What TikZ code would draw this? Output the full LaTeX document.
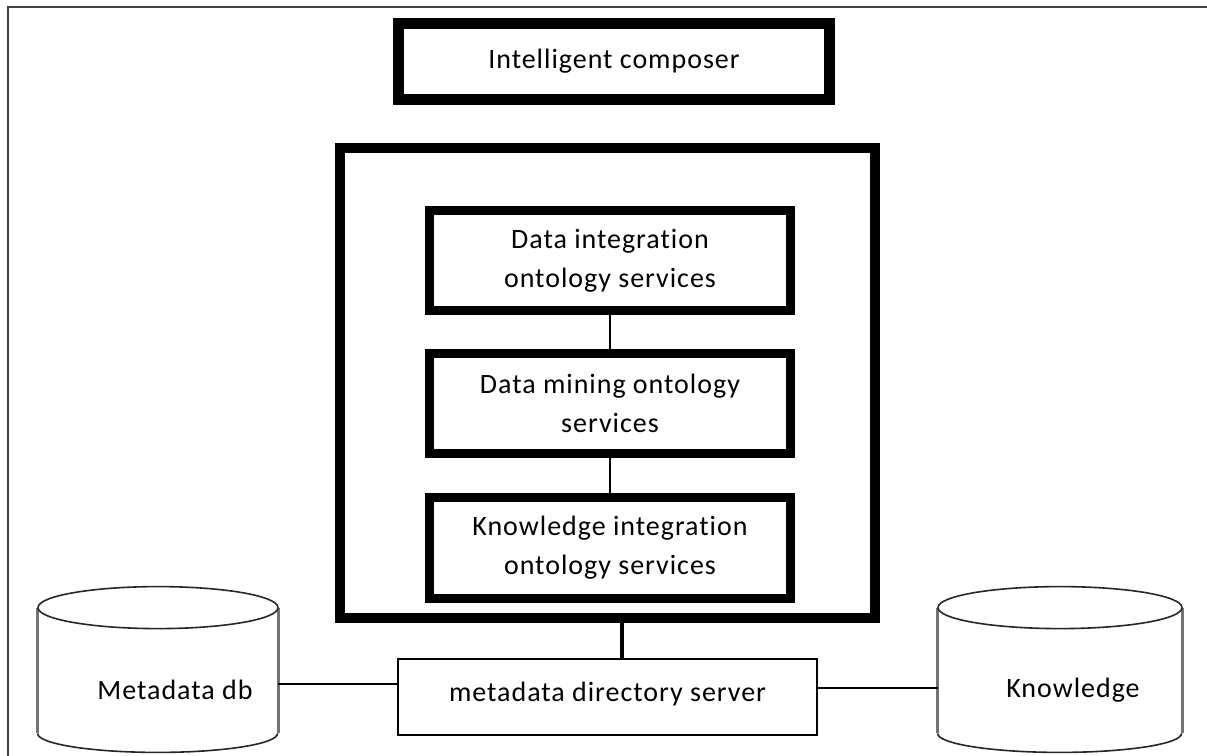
\documentclass[tikz,border=0pt]{standalone}
\usepackage{fontspec}
\setmainfont{Carlito}[Ligatures=NoCommon, LetterSpace=3.5]
\usetikzlibrary{calc}
\tikzset{
  txt/.style={font=\fontsize{14pt}{19.5pt}\selectfont, align=center, inner sep=0pt},
  heavybox/.style={draw=black, line width=5.5pt, fill=white, inner sep=0pt, font=\fontsize{14pt}{19.5pt}\selectfont, align=center},
  svcbox/.style={draw=black, line width=4.5pt, fill=white, inner sep=0pt, minimum width=180.5pt, minimum height=50pt, font=\fontsize{14pt}{19.5pt}\selectfont, align=center},
  thinbox/.style={draw=black, line width=1pt, fill=white, inner sep=0pt, font=\fontsize{14pt}{19.5pt}\selectfont, align=center},
  cylbody/.style={draw=none, inner sep=0pt, minimum height=62.5pt},
  cylside/.style={draw=black!55, line width=1.2pt},
  cylrim/.style={draw=black!85, line width=0.8pt},
  link/.style={draw=black, line width=0.8pt},
  frame/.style={draw=black!75, line width=1pt}
}
\begin{document}
\begin{tikzpicture}[x=0.5pt, y=-0.5pt]
\useasboundingbox (0,0) rectangle (1207,756);
\fill[white] (0,0) rectangle (1207,756);
\draw[frame] (8,756) -- (8,7) -- (1207,7);

% top box
\node[heavybox, minimum width=215.5pt, minimum height=38pt] (ic) at (614,61.5) {Intelligent composer};

% big container
\node[draw=black, line width=5pt, inner sep=0pt, minimum width=267.5pt, minimum height=235pt] (big) at (607.5,383) {};

% services
\node[svcbox] (b1) at (610,260.5) {Data integration\\ontology services};
\node[svcbox] (b2) at (610,403.5) {Data mining ontology\\services};
\node[svcbox, minimum height=50.5pt] (b3) at (610,548) {Knowledge integration\\ontology services};
\draw[link] (b1.south) -- (b2.north);
\draw[link] (b2.south) -- (b3.north);

% metadata directory server
\node[thinbox, minimum width=209.5pt, minimum height=38pt] (mds) at (607.5,697) {\raisebox{5pt}{metadata directory server}};
\draw[draw=black, line width=1.6pt] ([xshift=7.25pt]big.south) -- ([xshift=7.25pt]big.south |- mds.north);

% cylinders
\node[cylbody, minimum width=120pt] (mdb) at (158,670.5) {};
\draw[cylside] (mdb.north west) -- (mdb.south west);
\draw[cylside] (mdb.north east) -- (mdb.south east);
\draw[cylrim] (mdb.north) ellipse [x radius=60pt, y radius=10.5pt];
\draw[cylrim] (mdb.south west) arc [start angle=180, end angle=360, x radius=60pt, y radius=9.5pt];
\node[txt] (mdbtext) at (175,690) {Metadata db};

\node[cylbody, minimum width=122pt] (kn) at (1060,670.5) {};
\draw[cylside] (kn.north west) -- (kn.south west);
\draw[cylside] (kn.north east) -- (kn.south east);
\draw[cylrim] (kn.north) ellipse [x radius=61pt, y radius=10.5pt];
\draw[cylrim] (kn.south west) arc [start angle=180, end angle=360, x radius=61pt, y radius=9.5pt];
\node[txt] (kntext) at (1073,690) {Knowledge};

% connectors to databases
\draw[link] ([yshift=6.5pt]mds.west) -- ([yshift=6.5pt]mds.west -| mdb.east);
\draw[link] ([yshift=4.5pt]mds.east) -- ([yshift=4.5pt]mds.east -| kn.west);
\end{tikzpicture}
\end{document}
